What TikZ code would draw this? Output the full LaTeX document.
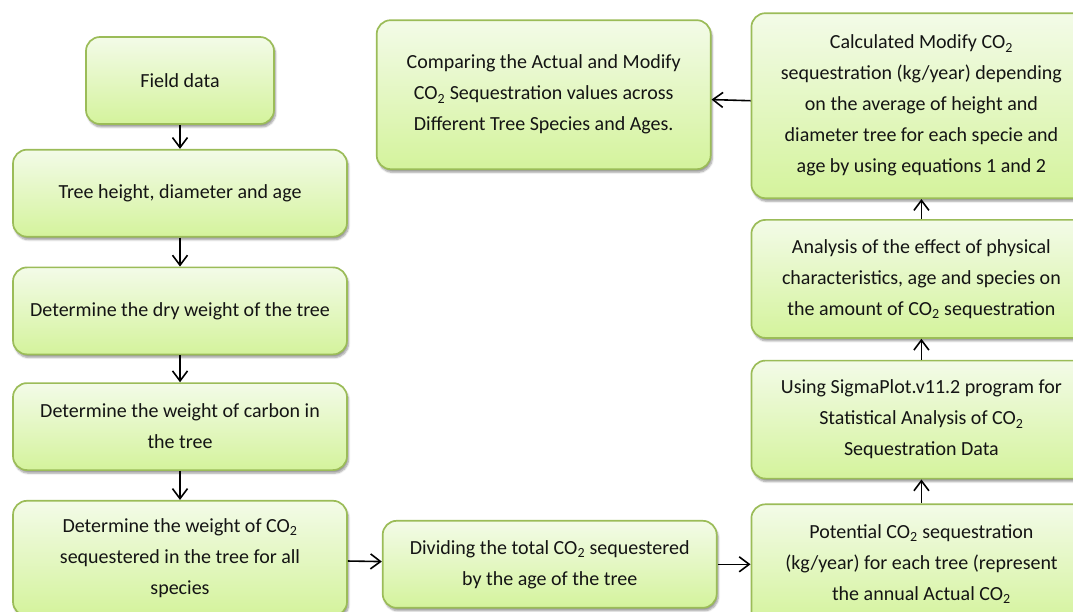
\documentclass[tikz,border=0pt]{standalone}
\usepackage{fontspec}
\setmainfont{Carlito}
\usetikzlibrary{arrows.meta, positioning, shadows.blur}

\definecolor{stageline}{RGB}{155,188,88}
\definecolor{stagetop}{RGB}{243,251,232}
\definecolor{stagebottom}{RGB}{212,243,156}
\newcommand{\COtwo}{CO\textsubscript{2}}

\begin{document}
\begin{tikzpicture}[
  x=1pt, y=-1pt,
  stage/.style={draw=stageline, line width=1.7pt, rounded corners=14pt, top color=stagetop, bottom color=stagebottom, align=center, font=\fontsize{20pt}{31pt}\selectfont, text=black!92, inner sep=2pt, blur shadow={shadow xshift=1.5pt, shadow yshift=-3pt, shadow opacity=40, shadow blur steps=6}},
  wide/.style={stage, minimum width=334pt, minimum height=87pt},
  tall/.style={stage, minimum width=340pt, minimum height=118pt},
  flow/.style={-{Straight Barb[length=10pt, width=15pt]}, line width=1.6pt, black}
]
\useasboundingbox (0,0) rectangle (1073,612);

% Left column: field measurements
\node[stage, minimum width=188pt, minimum height=87pt] (field) at (180,80.5) {Field data};
\node[wide, below=24pt of field] (sizes) {Tree height, diameter and age};
\node[wide, below=29pt of sizes] (dryweight) {Determine the dry weight of the tree};
\node[wide, below=27pt of dryweight] (carbon) {Determine the weight of carbon in\\the tree};
\node[wide, minimum height=115pt, below=29pt of carbon] (cotwo) {Determine the weight of \COtwo\\sequestered in the tree for all\\species};

% Bottom row
\node[wide, right=34pt of cotwo, yshift=-6pt] (divide) {Dividing the total \COtwo{} sequestered\\by the age of the tree};
\node[tall, minimum height=120pt, right=33pt of divide] (potential) {Potential \COtwo{} sequestration\\(kg/year) for each tree (represent\\the annual Actual \COtwo};

% Right column
\node[tall, above=24pt of potential] (sigma) {Using SigmaPlot.v11.2 program for\\Statistical Analysis of \COtwo\\Sequestration Data};
\node[tall, above=21pt of sigma] (analysis) {Analysis of the effect of physical\\characteristics, age and species on\\the amount of \COtwo{} sequestration};
\node[tall, minimum height=185pt, above=20pt of analysis] (calc) {Calculated Modify \COtwo\\sequestration (kg/year) depending\\on the average of height and\\diameter tree for each specie and\\age by using equations 1 and 2};

% Comparison
\node[wide, minimum height=149pt, left=39pt of calc, yshift=11pt] (compare) {Comparing the Actual and Modify\\\COtwo{} Sequestration values across\\Different Tree Species and Ages.};

% Arrows
\draw[flow] (field) -- (sizes);
\draw[flow] (sizes) -- (dryweight);
\draw[flow] (dryweight) -- (carbon);
\draw[flow] (carbon) -- (cotwo);
\draw[flow] (cotwo) -- (divide);
\draw[flow] (divide) -- (potential);
\draw[flow] (potential) -- (sigma);
\draw[flow] (sigma) -- (analysis);
\draw[flow] (analysis) -- (calc);
\draw[flow] (calc) -- (compare);

\end{tikzpicture}
\end{document}
